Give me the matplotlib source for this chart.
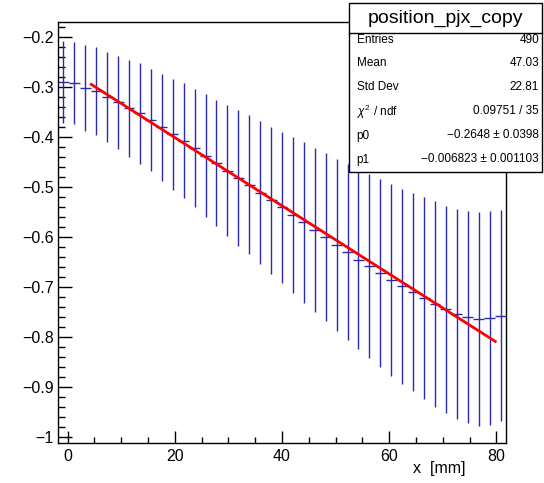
import numpy as np
import matplotlib
matplotlib.use('agg')
import matplotlib.pyplot as plt
from matplotlib.ticker import MultipleLocator, FixedLocator, FixedFormatter
from matplotlib.patches import Rectangle

plt.rcParams['font.family'] = ['Liberation Sans', 'DejaVu Sans']
plt.rcParams['mathtext.fontset'] = 'custom'
plt.rcParams['mathtext.rm'] = 'Liberation Sans'
plt.rcParams['mathtext.it'] = 'Liberation Sans:italic'

# profile binning
x_lo, x_hi, n_bins = -1.8, 81.8, 41

# bin means and spread
means = [-0.2902, -0.2922, -0.3022, -0.3086, -0.3196, -0.3303, -0.3431, -0.3531,
         -0.3663, -0.3804, -0.3944, -0.4072, -0.4224, -0.4373, -0.4525, -0.4679,
         -0.4820, -0.4960, -0.5114, -0.5267, -0.5411, -0.5557, -0.5711, -0.5868,
         -0.6002, -0.6156, -0.6297, -0.6457, -0.6583, -0.6723, -0.6864, -0.6988,
         -0.7108, -0.7220, -0.7349, -0.7451, -0.7539, -0.7605, -0.7645, -0.7621,
         -0.7579]
errs = [0.0812, 0.0822, 0.0852, 0.0876, 0.0899, 0.0932, 0.0965, 0.1002,
        0.1029, 0.1072, 0.1112, 0.1149, 0.1185, 0.1225, 0.1266, 0.1313,
        0.1360, 0.1389, 0.1427, 0.1470, 0.1517, 0.1560, 0.1607, 0.1640,
        0.1683, 0.1720, 0.1764, 0.1790, 0.1848, 0.1878, 0.1924, 0.1954,
        0.1987, 0.2024, 0.2057, 0.2078, 0.2100, 0.2124, 0.2137, 0.2137,
        0.2114]

# linear fit
p0, p1 = -0.2648, -0.006823
fit_range = [4.4, 79.8]

stat_names = ['Entries', 'Mean', 'Std Dev', r'$\chi^{2}$ / ndf', 'p0', 'p1']
stat_values = ['490', '47.03', '22.81', '0.09751 / 35',
               '\u22120.2648 \u00b1 0.0398', '\u22120.006823 \u00b1 0.001103']

y_ticks = [-1, -0.9, -0.8, -0.7, -0.6, -0.5, -0.4, -0.3, -0.2]
y_ticklabels = ['\u22121', '\u22120.9', '\u22120.8', '\u22120.7', '\u22120.6',
                '\u22120.5', '\u22120.4', '\u22120.3', '\u22120.2']
x_ticks = [0, 20, 40, 60, 80]

W, H = 544, 483
fig = plt.figure(figsize=(W / 100, H / 100), dpi=100)
ax = fig.add_axes([58 / W, 1 - 443 / H, (506 - 58) / W, (443 - 22) / H])

edges = np.linspace(x_lo, x_hi, n_bins + 1)
centers = 0.5 * (edges[:-1] + edges[1:])
half = 0.5 * (edges[1] - edges[0])

ax.errorbar(centers, means, yerr=errs, xerr=half, fmt='none',
            ecolor='#2a2aaa', elinewidth=1.0, capsize=0)

xf = np.array(fit_range)
ax.plot(xf, p0 + p1 * xf, color='#ff0000', lw=2.0, zorder=5)

ax.set_xlim(x_lo, x_hi)
ax.set_ylim(-1.0126, -0.17)

ax.yaxis.set_major_locator(FixedLocator(y_ticks))
ax.yaxis.set_major_formatter(FixedFormatter(y_ticklabels))
ax.yaxis.set_minor_locator(MultipleLocator(0.02))
ax.xaxis.set_major_locator(FixedLocator(x_ticks))
ax.xaxis.set_minor_locator(MultipleLocator(5))

ax.tick_params(which='both', direction='in', top=False, right=False, width=1.0,
               labelsize=11.5)
ax.tick_params(axis='y', which='major', length=10, pad=3)
ax.tick_params(axis='y', which='minor', length=5)
ax.tick_params(axis='x', which='major', length=9, pad=4)
ax.tick_params(axis='x', which='minor', length=4.3)
for s in ax.spines.values():
    s.set_linewidth(1.0)

ax.set_xlabel('x  [mm]', fontsize=11.5, labelpad=0)
ax.xaxis.set_label_coords((466 - 58) / 448, -(468 - 443) / 421)
ax.xaxis.label.set_horizontalalignment('right')
ax.xaxis.label.set_verticalalignment('center')

# stats box
bx0, bx1, by0, by1, bsep = 348.7, 542, 3, 171.7, 32.7
fig.patches.append(Rectangle((bx0 / W, 1 - by1 / H), (bx1 - bx0) / W, (by1 - by0) / H,
                             transform=fig.transFigure, facecolor='white',
                             edgecolor='black', lw=1.0, zorder=10))
fig.lines.append(plt.Line2D([bx0 / W, bx1 / W], [1 - bsep / H, 1 - bsep / H],
                            transform=fig.transFigure, color='black', lw=1.0, zorder=11))
fig.text((bx0 + bx1) / 2 / W, 1 - 18 / H, 'position_pjx_copy', ha='center', va='center',
         fontsize=14, zorder=12)
row_y = [40, 63.5, 87.5, 111.5, 135.5, 159.5]
for name, val, yy in zip(stat_names, stat_values, row_y):
    fig.text(356.7 / W, 1 - yy / H, name, ha='left', va='center', fontsize=8.5, zorder=12)
    fig.text(539 / W, 1 - yy / H, val, ha='right', va='center', fontsize=8.5, zorder=12)

fig.savefig('out.png', dpi=100)
